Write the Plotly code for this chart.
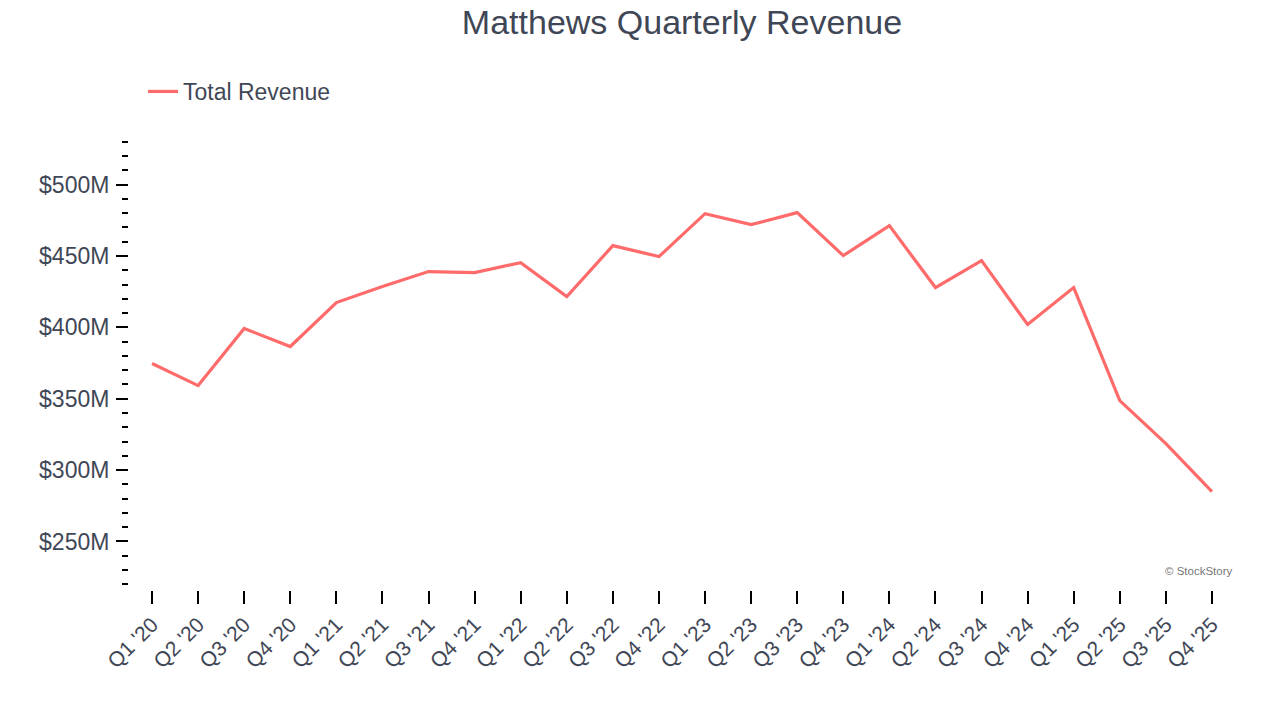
import plotly.graph_objects as go

quarters = ["Q1 '20", "Q2 '20", "Q3 '20", "Q4 '20", "Q1 '21", "Q2 '21", "Q3 '21", "Q4 '21",
            "Q1 '22", "Q2 '22", "Q3 '22", "Q4 '22", "Q1 '23", "Q2 '23", "Q3 '23", "Q4 '23",
            "Q1 '24", "Q2 '24", "Q3 '24", "Q4 '24", "Q1 '25", "Q2 '25", "Q3 '25", "Q4 '25"]
revenue = [374.7, 359.2, 399.2, 386.6, 417.4, 428.6, 439.1, 438.4,
           445.4, 421.6, 457.3, 449.6, 479.7, 472.0, 480.4, 450.3,
           471.3, 427.9, 446.8, 402.0, 427.9, 348.7, 318.6, 285.0]
revenue_usd = [v * 1e6 for v in revenue]
y_tick_values = [250e6, 300e6, 350e6, 400e6, 450e6, 500e6]
y_tick_labels = ["$250M", "$300M", "$350M", "$400M", "$450M", "$500M"]

text_color = "#3f4756"
font_family = "Arial, Liberation Sans, sans-serif"

fig = go.Figure()
fig.add_trace(go.Scatter(
    x=list(range(len(quarters))), y=revenue_usd, mode="lines", name="Total Revenue",
    line=dict(color="#ff6b6b", width=3.2),
))

fig.update_layout(
    width=1280, height=720,
    paper_bgcolor="white", plot_bgcolor="white",
    margin=dict(l=129, r=45, t=139, b=130),
    font=dict(family=font_family, color=text_color),
    title=dict(text="Matthews Quarterly Revenue", x=0.5, xref="paper", xanchor="center",
               y=1 - 22 / 720, yanchor="middle", font=dict(size=34, color=text_color)),
    showlegend=True,
    legend=dict(x=143 / 1280, y=1 - 70 / 720, xref="container", yref="container",
                xanchor="left", yanchor="top",
                orientation="h", font=dict(size=23, color=text_color), bgcolor="rgba(0,0,0,0)"),
)

fig.update_xaxes(
    range=[-0.5, 23.5], tickmode="array", tickvals=list(range(len(quarters))), ticktext=quarters,
    tickangle=-45, ticks="outside", ticklen=13, tickwidth=2, tickcolor="black",
    showgrid=False, zeroline=False, showline=False,
    tickfont=dict(size=21, color=text_color),
)
fig.update_yaxes(
    range=[216e6, 532e6], tickmode="array",
    tickvals=y_tick_values, ticktext=y_tick_labels,
    ticks="outside", ticklen=12, tickwidth=2, tickcolor="black", ticklabelstandoff=2,
    minor=dict(tickmode="linear", tick0=0, dtick=10e6, ticks="outside", ticklen=6, tickwidth=2, tickcolor="black"),
    showgrid=False, zeroline=False, showline=False,
    tickfont=dict(size=23, color=text_color),
)

fig.add_annotation(text="© StockStory", x=1.0, y=(590 - 571) / 451, xref="paper", yref="paper",
                   xanchor="right", yanchor="middle",
                   showarrow=False, font=dict(size=11.5, color="#777777"))

fig.write_html("out.html", config={"displayModeBar": False},
               post_script="document.body.style.margin='0';")
